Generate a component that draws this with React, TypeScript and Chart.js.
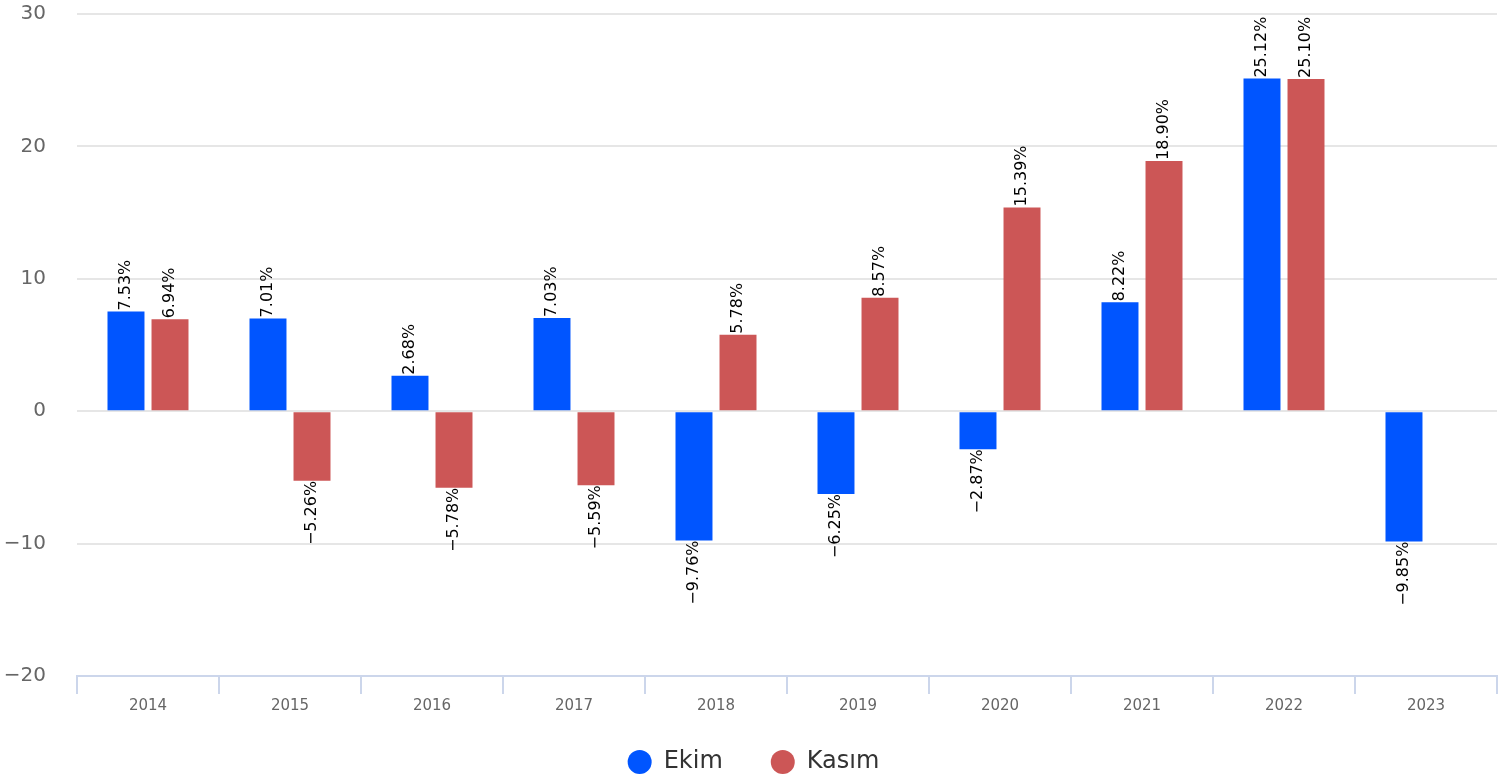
import React, { useEffect, useRef } from "react";
import { Chart, registerables } from "chart.js";

Chart.register(...registerables);

const categories = ["2014", "2015", "2016", "2017", "2018", "2019", "2020", "2021", "2022", "2023"];
const ekimValues = [7.53, 7.01, 2.68, 7.03, -9.76, -6.25, -2.87, 8.22, 25.12, -9.85];
const kasimValues: (number | null)[] = [6.94, -5.26, -5.78, -5.59, 5.78, 8.57, 15.39, 18.9, 25.1, null];
const seriesNames = ["Ekim", "Kasım"];
const seriesColors = ["#0055ff", "#cc5656"];
const yTicks = [-20, -10, 0, 10, 20, 30];

const FONT = "'DejaVu Sans', Verdana, sans-serif";

const minus = (v: number) => (v < 0 ? "\u2212" : "") + Math.abs(v);
const fmt = (v: number) => (v < 0 ? "\u2212" : "") + Math.abs(v).toFixed(2) + "%";

const labelPlugin = {
  id: "barLabels",
  afterLayout(chart: any) {
    if (chart.legend) {
      chart.legend.left += 5;
      chart.legend.right += 5;
    }
  },
  afterDatasetsDraw(chart: any) {
    const ctx = chart.ctx;
    ctx.save();
    ctx.font = `16px ${FONT}`;
    ctx.fillStyle = "#000";
    ctx.textBaseline = "middle";
    chart.data.datasets.forEach((ds: any, di: number) => {
      const meta = chart.getDatasetMeta(di);
      meta.data.forEach((el: any, i: number) => {
        const v = ds.data[i];
        if (v === null || v === undefined) return;
        ctx.save();
        if (v >= 0) {
          ctx.translate(el.x, el.y - 1);
          ctx.rotate(-Math.PI / 2);
          ctx.textAlign = "left";
        } else {
          ctx.translate(el.x, el.y);
          ctx.rotate(-Math.PI / 2);
          ctx.textAlign = "right";
        }
        ctx.fillText(fmt(v), 0, 0);
        ctx.restore();
      });
    });
    ctx.restore();
  },
};

export default function App() {
  const ref = useRef<HTMLCanvasElement | null>(null);
  useEffect(() => {
    document.body.style.margin = "0";
    if (!ref.current) return;
    const chart = new Chart(ref.current, {
      type: "bar",
      data: {
        labels: categories,
        datasets: [
          { label: seriesNames[0], data: ekimValues, backgroundColor: seriesColors[0], borderWidth: 0 },
          { label: seriesNames[1], data: kasimValues, backgroundColor: seriesColors[1], borderWidth: 0 },
        ],
      },
      options: {
        responsive: false,
        animation: false,
        layout: { padding: { top: 14, right: 3, left: 0, bottom: -2 } },
        datasets: { bar: { categoryPercentage: 0.62, barPercentage: 0.84 } },
        scales: {
          x: {
            grid: {
              display: true,
              drawOnChartArea: false,
              drawTicks: true,
              tickLength: 18,
              color: "#ccd6eb",
              lineWidth: 2,
            },
            border: { display: true, color: "#ccd6eb", width: 2 },
            ticks: { color: "#666666", font: { family: FONT, size: 15 }, padding: 3 },
            afterFit: (s: any) => {
              s.height = 26;
              s._computeLabelArea = () => undefined;
            },
          },
          y: {
            min: yTicks[0],
            max: yTicks[yTicks.length - 1],
            afterBuildTicks: (s: any) => {
              s.ticks = yTicks.map((v) => ({ value: v }));
            },
            ticks: {
              color: "#666666",
              font: { family: FONT, size: 20 },
              padding: 0,
              callback: (v: any) => minus(Number(v)),
            },
            grid: {
              color: "#e6e6e6",
              lineWidth: 2,
              drawTicks: true,
              tickLength: 31,
              tickColor: "rgba(0,0,0,0)",
            },
            border: { display: false },
            afterFit: (s: any) => {
              s.width = 77;
            },
          },
        },
        plugins: {
          tooltip: { enabled: false },
          legend: {
            position: "bottom",
            labels: {
              usePointStyle: true,
              pointStyle: "circle",
              boxHeight: 17,
              boxWidth: 17,
              pointStyleWidth: 24,
              padding: 48,
              color: "#333333",
              font: { family: FONT, size: 24 },
            },
          },
        },
      },
      plugins: [labelPlugin],
    } as any);
    return () => chart.destroy();
  }, []);
  return (
    <div style={{ width: 1500, height: 782 }}>
      <canvas ref={ref} width={1500} height={782} />
    </div>
  );
}
